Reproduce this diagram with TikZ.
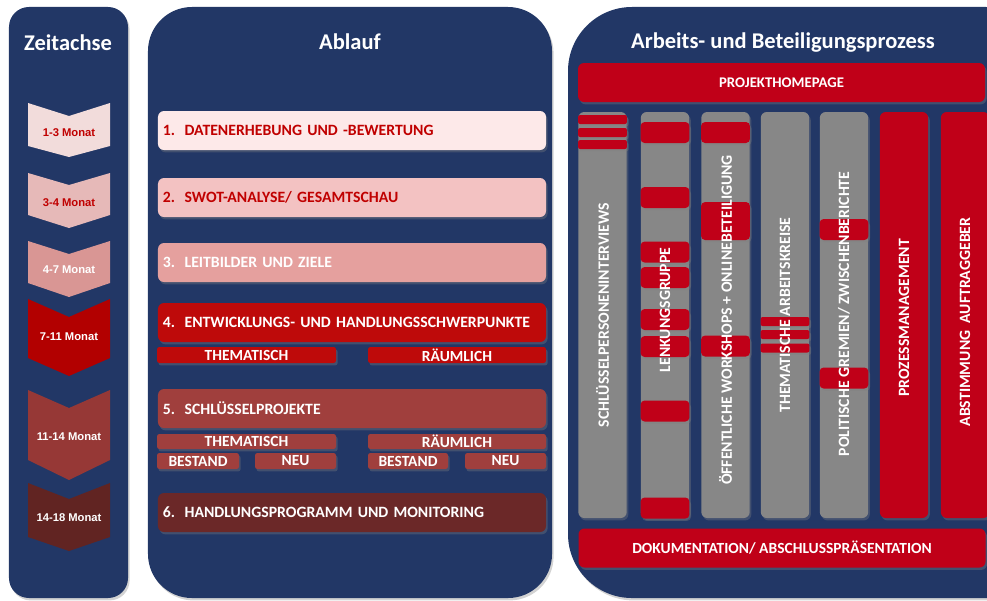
\documentclass[tikz,border=0pt]{standalone}
\usepackage{fontspec}
\setmainfont{Carlito}
\newfontfamily\arialfont{Liberation Sans}
\usetikzlibrary{shadows}

\definecolor{navy}{RGB}{34,55,102}
\definecolor{balkenrot}{RGB}{192,0,24}
\definecolor{spaltengrau}{RGB}{135,135,135}
\definecolor{txtrot}{RGB}{192,0,0}
\definecolor{zeitA}{RGB}{242,220,219}
\definecolor{zeitB}{RGB}{230,185,184}
\definecolor{zeitC}{RGB}{217,150,148}
\definecolor{zeitD}{RGB}{178,0,0}
\definecolor{zeitE}{RGB}{150,56,54}
\definecolor{zeitF}{RGB}{97,36,34}
\definecolor{stufeA}{RGB}{253,233,233}
\definecolor{stufeB}{RGB}{243,194,194}
\definecolor{stufeC}{RGB}{229,160,158}
\definecolor{stufeD}{RGB}{190,10,10}
\definecolor{stufeE}{RGB}{160,63,61}
\definecolor{stufeF}{RGB}{107,40,40}

\tikzset{
  schatten/.style={drop shadow={opacity=0.35,shadow xshift=0.4mm,shadow yshift=-0.6mm}},
  titel/.style={text=white,font=\bfseries\fontsize{16}{19}\selectfont},
  monat/.style={font=\arialfont\bfseries\fontsize{8}{9}\selectfont},
  stufe/.style={rectangle,rounded corners=1.5mm,minimum width=97mm,minimum height=9.75mm,
    text width=94.5mm,align=left,inner xsep=1.25mm,schatten,
    font=\bfseries\fontsize{11.2}{13}\selectfont},
  teil/.style={rectangle,rounded corners=0.6mm,text=white,minimum height=4mm,inner sep=0pt,
    schatten,font=\bfseries\fontsize{11}{12}\selectfont},
  spalte/.style={rectangle,rounded corners=1.5mm,minimum width=12.1mm,minimum height=101.5mm,schatten},
  marke/.style={rectangle,rounded corners=1mm,fill=balkenrot,minimum width=12.2mm,inner sep=0pt,schatten},
  spaltentext/.style={rotate=90,text=white,font=\bfseries\fontsize{11.2}{13}\selectfont},
  balken/.style={rectangle,rounded corners=1.5mm,fill=balkenrot,text=white,minimum width=101.75mm,
    minimum height=9.75mm,schatten,font=\bfseries\fontsize{11}{13}\selectfont}
}

\begin{document}
\begin{tikzpicture}[x=0.25mm,y=-0.25mm]
    \useasboundingbox (0,0) rectangle (987,600);

    \node [fill=navy,rounded corners=5mm,minimum width=29.75mm,minimum height=147.75mm,schatten] (zeit) at (68.5,302.5) {};
    \node [fill=navy,rounded corners=11mm,minimum width=101mm,minimum height=147.75mm,schatten] (ablauf) at (350,302.5) {};
    \node [fill=navy,rounded corners=16mm,minimum width=120.5mm,minimum height=147.75mm,schatten] (prozess) at (809,302.5) {};

    \node [titel] (zeittitel) at (68,43) {Zeitachse};
    \node [titel] (ablauftitel) at (350,42) {Ablauf};
    \node [titel] (prozesstitel) at (783,43) {Arbeits- und Beteiligungsprozess};

    \begin{scope}[schatten]
        \fill [zeitA] (28,103) -- (69,116) -- (110,103) -- (110,146) -- (69,157) -- (28,146) -- cycle;
        \fill [zeitB] (28,173) -- (69,185) -- (110,173) -- (110,215) -- (69,228) -- (28,215) -- cycle;
        \fill [zeitC] (28,241) -- (69,254) -- (110,241) -- (110,283) -- (69,297) -- (28,283) -- cycle;
        \fill [zeitD] (28,299) -- (69,317) -- (110,299) -- (110,358) -- (69,376) -- (28,358) -- cycle;
        \fill [zeitE] (28,390) -- (69,408) -- (110,390) -- (110,460) -- (69,480) -- (28,460) -- cycle;
        \fill [zeitF] (28,483) -- (69,499) -- (110,483) -- (110,537) -- (69,551) -- (28,537) -- cycle;
    \end{scope}
    \node [monat,text=txtrot] (m1) at (69,133) {1-3 Monat};
    \node [monat,text=txtrot] (m2) at (69,203) {3-4 Monat};
    \node [monat,text=white] (m3) at (69,270) {4-7 Monat};
    \node [monat,text=white] (m4) at (69,337) {7-11 Monat};
    \node [monat,text=white] (m5) at (69,437) {11-14 Monat};
    \node [monat,text=white] (m6) at (69,518) {14-18 Monat};

    \node [stufe,fill=stufeA,text=txtrot] (s1) at (352,130.5) {1.\hspace{0.6em}DATENERHEBUNG UND -BEWERTUNG};
    \node [stufe,fill=stufeB,text=txtrot] (s2) at (352,197.5) {2.\hspace{0.6em}SWOT-ANALYSE/ GESAMTSCHAU};
    \node [stufe,fill=stufeC,text=white] (s3) at (352,262.5) {3.\hspace{0.6em}LEITBILDER UND ZIELE};
    \node [stufe,fill=stufeD,text=white] (s4) at (352,322.5) {4.\hspace{0.6em}ENTWICKLUNGS- UND HANDLUNGSSCHWERPUNKTE};
    \node [stufe,fill=stufeE,text=white] (s5) at (352,408.5) {5.\hspace{0.6em}SCHLÜSSELPROJEKTE};
    \node [stufe,fill=stufeF,text=white] (s6) at (352,512.5) {6.\hspace{0.6em}HANDLUNGSPROGRAMM UND MONITORING};

    \node [teil,fill=stufeD,minimum width=44.75mm] (th4) at (246.5,355) {THEMATISCH};
    \node [teil,fill=stufeD,minimum width=44.5mm] (rm4) at (457,355) {RÄUMLICH};
    \node [teil,fill=stufeE,minimum width=44.75mm,minimum height=3.75mm] (th5) at (246.5,441.5) {THEMATISCH};
    \node [teil,fill=stufeE,minimum width=44.5mm,minimum height=3.75mm] (rm5) at (457,441.5) {RÄUMLICH};
    \node [teil,fill=stufeE,minimum width=20.5mm] (be5a) at (198,461) {BESTAND};
    \node [teil,fill=stufeE,minimum width=20.25mm] (ne5a) at (295.5,461) {NEU};
    \node [teil,fill=stufeE,minimum width=20mm] (be5b) at (408,461) {BESTAND};
    \node [teil,fill=stufeE,minimum width=20.25mm] (ne5b) at (505.5,461) {NEU};

    \node [balken,font=\bfseries\fontsize{10.5}{12}\selectfont] (homepage) at (781.5,82.5) {PROJEKTHOMEPAGE};
    \node [balken] (doku) at (782,548) {DOKUMENTATION/ ABSCHLUSSPRÄSENTATION};

    \node [spalte,fill=spaltengrau] (sp1) at (602.5,315) {};
    \node [spalte,fill=spaltengrau] (sp2) at (665,315) {};
    \node [spalte,fill=spaltengrau] (sp3) at (725.5,315) {};
    \node [spalte,fill=spaltengrau] (sp4) at (785,315) {};
    \node [spalte,fill=spaltengrau] (sp5) at (844,315) {};
    \node [spalte,fill=balkenrot] (sp6) at (904,315) {};
    \node [spalte,fill=balkenrot] (sp7) at (965,315) {};

    \begin{scope}[every node/.style={marke,minimum height=2.25mm,rounded corners=0.5mm}]
        \node (k1a) at (602.5,119.5) {};
        \node (k1b) at (602.5,132.5) {};
        \node (k1c) at (602.5,144.5) {};
        \node (k4a) at (785,321.5) {};
        \node (k4b) at (785,334.5) {};
        \node (k4c) at (785,348) {};
    \end{scope}
    \begin{scope}[every node/.style={marke,minimum height=5.25mm}]
        \node (k2a) at (665,132.5) {};
        \node (k2b) at (665,197.5) {};
        \node (k2c) at (665,252) {};
        \node (k2d) at (665,277.5) {};
        \node (k2e) at (665,319.5) {};
        \node (k2f) at (665,346.5) {};
        \node (k2g) at (665,411) {};
        \node (k2h) at (665,508) {};
        \node (k3a) at (725.5,132.5) {};
        \node [minimum height=9.5mm] (k3b) at (725.5,221) {};
        \node (k3c) at (725.5,346) {};
        \node (k5a) at (844,229.5) {};
        \node (k5b) at (844,378) {};
    \end{scope}

    \node [spaltentext] (t1) at (602.5,315) {SCHLÜSSELPERSONENINTERVIEWS};
    \node [spaltentext] (t2) at (665,310) {LENKUNGSGRUPPE};
    \node [spaltentext] (t3) at (725.5,320) {ÖFFENTLICHE WORKSHOPS + ONLINEBETEILIGUNG};
    \node [spaltentext] (t4) at (785,315) {THEMATISCHE ARBEITSKREISE};
    \node [spaltentext] (t5) at (844,314) {POLITISCHE GREMIEN/ ZWISCHENBERICHTE};
    \node [spaltentext] (t6) at (904,318) {PROZESSMANAGEMENT};
    \node [spaltentext] (t7) at (965,322) {ABSTIMMUNG\ \ AUFTRAGGEBER};
\end{tikzpicture}
\end{document}
